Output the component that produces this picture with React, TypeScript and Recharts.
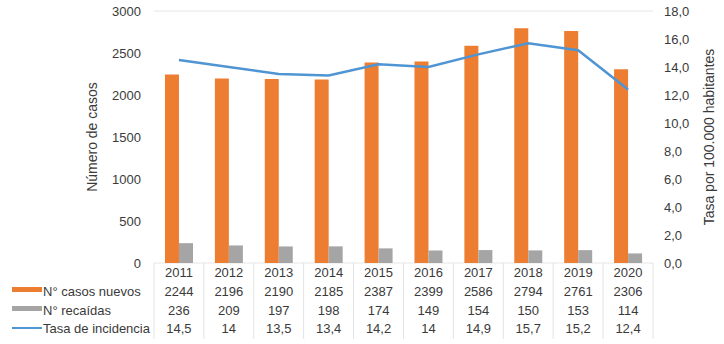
import React from "react"
import {
  ComposedChart,
  Bar,
  Line,
  XAxis,
  YAxis,
  CartesianGrid,
} from "recharts"

const years = ["2011", "2012", "2013", "2014", "2015", "2016", "2017", "2018", "2019", "2020"]
const casosNuevos = [2244, 2196, 2190, 2185, 2387, 2399, 2586, 2794, 2761, 2306]
const recaidas = [236, 209, 197, 198, 174, 149, 154, 150, 153, 114]
const tasa = [14.5, 14, 13.5, 13.4, 14.2, 14, 14.9, 15.7, 15.2, 12.4]

const leftTicks = [0, 500, 1000, 1500, 2000, 2500, 3000]
const rightTicks = [0, 2, 4, 6, 8, 10, 12, 14, 16, 18]

const ORANGE = "#ED7D31"
const GRAY = "#A5A5A5"
const BLUE = "#4F95D3"
const TEXT = "#3a3a3a"
const FONT = "'Liberation Sans', Arial, sans-serif"

const data = years.map((year, i) => ({
  year,
  casos: casosNuevos[i],
  recaidas: recaidas[i],
  tasa: tasa[i],
}))

const fmtTasa = (v: number) => v.toString().replace(".", ",")

// x axis tick = one column of the data table
function TableTick(props: any) {
  const { x, y, index } = props
  const half = 25
  const rows = [years[index], String(casosNuevos[index]), String(recaidas[index]), fmtTasa(tasa[index])]
  const rowY = [9, 28, 47, 65]
  return (
    <g>
      {index === 0 && (
        <g>
          <rect x={12} y={y + 24} width={30} height={5} fill={ORANGE} />
          <rect x={12} y={y + 43} width={30} height={5} fill={GRAY} />
          <line x1={12} x2={42} y1={y + 65} y2={y + 65} stroke={BLUE} strokeWidth={2} />
          <text x={43} y={y + 28} dominantBaseline="central" fontSize={13} fill={TEXT} fontFamily={FONT}>N° casos nuevos</text>
          <text x={43} y={y + 47} dominantBaseline="central" fontSize={13} fill={TEXT} fontFamily={FONT}>N° recaídas</text>
          <text x={43} y={y + 65} dominantBaseline="central" fontSize={13} fill={TEXT} fontFamily={FONT}>Tasa de incidencia</text>
        </g>
      )}
      <line x1={x - half} x2={x - half} y1={y} y2={y + 76} stroke="#e2e2e2" />
      {index === years.length - 1 && (
        <line x1={x + half} x2={x + half} y1={y} y2={y + 76} stroke="#e2e2e2" />
      )}
      {rows.map((t, i) => (
        <text key={i} x={x} y={y + rowY[i]} textAnchor="middle" dominantBaseline="central" fontSize={13} fill={TEXT} fontFamily={FONT}>
          {t}
        </text>
      ))}
    </g>
  )
}

function AxisTitle({ viewBox, value, posX }: any) {
  const cy = viewBox.y + viewBox.height / 2
  return (
    <text x={posX} y={cy} transform={`rotate(-90 ${posX} ${cy})`} textAnchor="middle" dominantBaseline="central" fontSize={14} fill={TEXT} fontFamily={FONT}>
      {value}
    </text>
  )
}

export default function App() {
  return (
    <div style={{ position: "absolute", left: 0, top: 0, width: 724, height: 344, background: "#fff" }}>
      <ComposedChart width={724} height={344} data={data} margin={{ top: 11, right: 0, left: 0, bottom: 0 }} barCategoryGap="22%" barGap={0}>
        <CartesianGrid vertical={false} stroke="#e6e6e6" />
        <XAxis dataKey="year" height={81} tickLine={false} axisLine={false} tickSize={0} tickMargin={0} interval={0} tick={<TableTick />} />
        <YAxis
          yAxisId="left"
          width={154}
          domain={[0, 3000]}
          ticks={leftTicks}
          tickLine={false}
          axisLine={false}
          tickMargin={7}
          tick={{ fontSize: 13, fill: TEXT, fontFamily: FONT }}
          label={<AxisTitle value="Número de casos" posX={92} />}
        />
        <YAxis
          yAxisId="right"
          orientation="right"
          width={71}
          domain={[0, 18]}
          ticks={rightTicks}
          tickLine={false}
          axisLine={false}
          tickMargin={5}
          tickFormatter={(v) => Number(v).toFixed(1).replace(".", ",")}
          tick={{ fontSize: 13, fill: TEXT, fontFamily: FONT, textAnchor: "start" }}
          label={<AxisTitle value="Tasa por 100.000 habitantes" posX={709} />}
        />
        <Bar yAxisId="left" dataKey="casos" fill={ORANGE} isAnimationActive={false} />
        <Bar yAxisId="left" dataKey="recaidas" fill={GRAY} isAnimationActive={false} />
        <Line yAxisId="right" dataKey="tasa" type="linear" stroke={BLUE} strokeWidth={2.5} dot={false} isAnimationActive={false} />
      </ComposedChart>
    </div>
  )
}
